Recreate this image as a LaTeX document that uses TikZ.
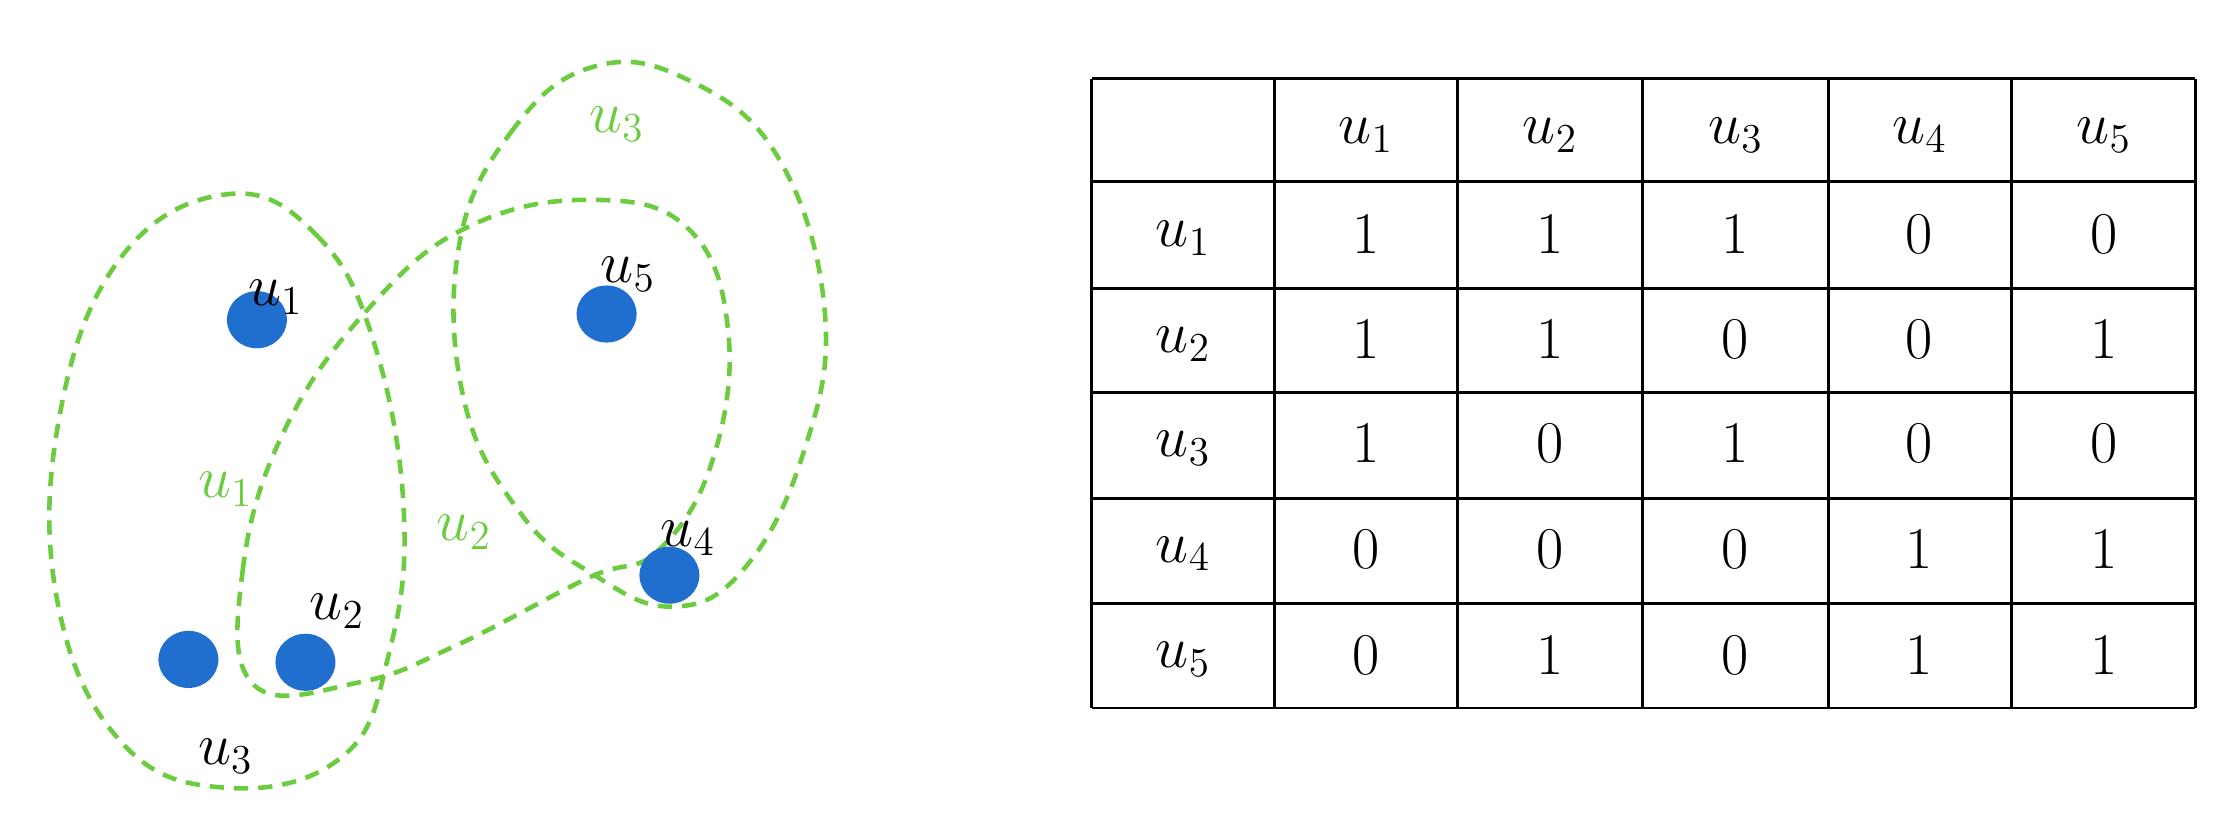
\documentclass[tikz,border=0pt]{standalone}
\begin{document}
\begin{tikzpicture}[x=0.5pt,y=-0.5pt,
  hedge/.style={draw=hg,line width=1.6pt,dash pattern=on 5pt off 3.5pt},
  dot/.style={fill=bd,ellipse-like},
  lab/.style={font=\fontsize{20}{24}\selectfont},
  glab/.style={lab,text=hg}]
\definecolor{hg}{RGB}{108,204,64}
\definecolor{bd}{RGB}{32,110,205}
\useasboundingbox (0,0) rectangle (1568,584);
% hyperedges
\draw[hedge] plot[smooth cycle,tension=0.7] coordinates{(160,136)(222,165)(262,240)(283,360)(272,460)(240,530)(160,552)(85,520)(40,420)(42,290)(85,180)};
\draw[hedge] plot[smooth cycle,tension=0.7] coordinates{(178,480)(170,400)(200,300)(262,212)(330,158)(415,140)(482,160)(510,230)(500,320)(462,385)(412,405)(320,452)(252,478)};
\draw[hedge] plot[smooth cycle,tension=0.7] coordinates{(415,47)(360,90)(322,170)(325,280)(365,360)(415,402)(470,425)(520,400)(562,320)(578,220)(545,110)(480,55)};
% vertices
\fill[bd] (180,224) ellipse [x radius=21,y radius=20] node (v1) {};
\fill[bd] (425,220) ellipse [x radius=21,y radius=20] node (v5) {};
\fill[bd] (469,403) ellipse [x radius=21,y radius=20] node (v4) {};
\fill[bd] (132,462) ellipse [x radius=21,y radius=20] node (v3) {};
\fill[bd] (214,464) ellipse [x radius=21,y radius=20] node (v2) {};
\node[lab] (l1) at (193,208) {$u_1$};
\node[lab] (l5) at (440,192) {$u_5$};
\node[lab] (l4) at (482,377) {$u_4$};
\node[lab] (l2) at (236,428) {$u_2$};
\node[lab] (l3) at (158,530) {$u_3$};
\node[glab] (g3) at (432,87) {$u_3$};
\node[glab] (g1) at (158,343) {$u_1$};
\node[glab] (g2) at (325,373) {$u_2$};
% table
\def\xs{{765,893,1021,1151,1281,1409,1538}}
\def\ys{{55,127,202,275,349,423,496}}
\foreach \x in {765,893,1021,1151,1281,1409,1538} \draw[line width=1pt] (\x,55) -- (\x,496);
\foreach \y in {55,127,202,275,349,423,496} \draw[line width=1pt] (765,\y) -- (1538,\y);
\foreach \i/\xc in {1/957,2/1086,3/1216,4/1345,5/1474}
  \node[lab] (h\i) at (\xc,95) {$u_\i$};
\foreach \i/\yc in {1/167,2/241,3/314,4/388,5/462}
  \node[lab] (r\i) at (829,\yc) {$u_\i$};
\foreach \row/\yc/\vals in {1/164/{1,1,1,0,0},2/238/{1,1,0,0,1},3/311/{1,0,1,0,0},4/385/{0,0,0,1,1},5/459/{0,1,0,1,1}}{
  \foreach \v [count=\c] in \vals {
    \pgfmathsetmacro\xc{957+129.25*(\c-1)}
    \node[lab] (c\row\c) at (\xc,\yc) {$\v$};
  }
}
\end{tikzpicture}
\end{document}
